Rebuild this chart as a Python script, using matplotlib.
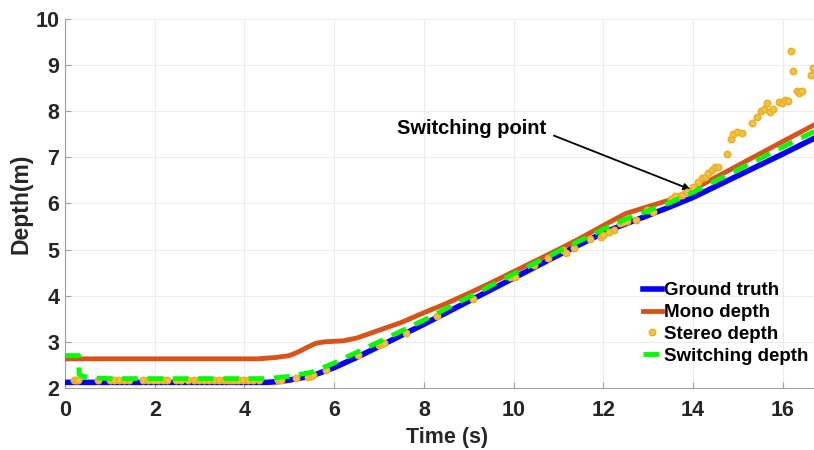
import matplotlib.pyplot as plt

plt.rcParams['font.family'] = ['Liberation Sans', 'DejaVu Sans']
plt.rcParams['font.weight'] = 'bold'

# Ground truth depth
gt_t = [0, 4.5, 4.8, 5.0, 5.5, 6.0, 6.5, 7.0, 8.0, 9.0, 10.0, 11.0, 12.0, 12.4,
        13.0, 13.5, 14.0, 15.0, 16.0, 16.7]
gt_d = [2.12, 2.12, 2.14, 2.17, 2.26, 2.44, 2.66, 2.9, 3.38, 3.88, 4.38, 4.88,
        5.36, 5.52, 5.74, 5.93, 6.13, 6.6, 7.07, 7.41]

# Mono depth
mono_t = [0, 4.3, 4.7, 5.0, 5.2, 5.4, 5.6, 5.8, 6.2, 6.5, 7.0, 7.5, 8.0, 8.5,
          9.0, 9.5, 10.0, 10.5, 11.0, 11.5, 12.0, 12.5, 13.0, 13.5, 14.0,
          15.0, 16.0, 16.7]
mono_d = [2.63, 2.63, 2.66, 2.7, 2.78, 2.88, 2.97, 3.0, 3.02, 3.08, 3.25, 3.42,
          3.63, 3.83, 4.05, 4.28, 4.52, 4.76, 5.0, 5.25, 5.52, 5.78, 5.93, 6.08,
          6.3, 6.82, 7.34, 7.7]

# Stereo depth samples
stereo_t = [0.2, 0.25, 0.29, 0.73, 1.0, 1.09, 1.2, 1.31, 1.42, 1.74, 1.85, 1.96,
            2.07, 2.18, 2.27, 2.47, 2.58, 2.74, 2.87, 2.98, 3.1, 3.2, 3.32, 3.43,
            3.54, 3.63, 3.7, 3.76, 3.85, 3.96, 4.08, 4.19, 4.32, 4.74, 4.81,
            5.14, 5.41, 5.48, 5.52, 5.81, 6.53, 6.99, 7.04, 7.1, 7.6, 8.3, 9.1,
            9.93, 10.04, 10.45, 10.76, 11.11, 11.16, 11.34, 11.71, 11.94, 12.0,
            12.12, 12.23, 12.38, 12.45, 12.54, 12.72, 12.98, 13.1, 13.5, 13.6,
            13.76, 13.87, 14.0, 14.12, 14.21, 14.28, 14.34, 14.43, 14.5, 14.57,
            14.77, 14.86, 14.9, 14.99, 15.1, 15.32, 15.43, 15.52, 15.59, 15.66,
            15.72, 15.79, 15.92, 15.99, 16.06, 16.12, 16.19, 16.24, 16.32,
            16.37, 16.43, 16.64, 16.68]
stereo_d = [2.17, 2.17, 2.17, 2.17, 2.17, 2.17, 2.17, 2.17, 2.17, 2.17, 2.17,
            2.17, 2.17, 2.17, 2.17, 2.17, 2.17, 2.17, 2.17, 2.17, 2.17, 2.17,
            2.17, 2.17, 2.17, 2.17, 2.17, 2.17, 2.17, 2.17, 2.17, 2.17, 2.17,
            2.17, 2.17, 2.22, 2.24, 2.25, 2.28, 2.39, 2.72, 2.93, 2.95, 2.98,
            3.2, 3.55, 3.93, 4.41, 4.41, 4.67, 4.82, 4.99, 4.93, 5.04, 5.23,
            5.28, 5.32, 5.38, 5.43, 5.58, 5.6, 5.62, 5.64, 5.86, 5.82, 6.1,
            6.17, 6.19, 6.25, 6.36, 6.47, 6.56, 6.58, 6.66, 6.73, 6.79, 6.79,
            7.08, 7.4, 7.51, 7.55, 7.53, 7.75, 7.88, 8.01, 8.05, 8.18, 7.99,
            8.05, 8.2, 8.18, 8.25, 8.23, 9.31, 8.88, 8.44, 8.4, 8.44, 8.79, 8.94]

# Switching depth
sw_t = [0, 0.3, 0.31, 0.4, 0.6, 1.0, 4.5, 5.0, 5.5, 6.0, 6.5, 7.0, 8.0, 9.0,
        10.0, 11.0, 12.0, 12.5, 13.0, 13.5, 14.0, 15.0, 16.0, 16.7]
sw_d = [2.7, 2.7, 2.3, 2.25, 2.22, 2.2, 2.2, 2.25, 2.34, 2.54, 2.77, 3.0, 3.47,
        3.97, 4.47, 4.96, 5.44, 5.66, 5.84, 6.02, 6.24, 6.73, 7.22, 7.56]

fig = plt.figure(figsize=(8.14, 4.5), dpi=100)
ax = fig.add_axes([0.08, 0.138, 0.92, 0.82])

ax.plot(gt_t, gt_d, color='#0000FF', lw=4, label='Ground truth', zorder=3)
ax.plot(mono_t, mono_d, color='#D95319', lw=3.5, label='Mono depth', zorder=3)
ax.plot(stereo_t, stereo_d, linestyle='none', marker='o', ms=4.5,
        color='#EDB120', mfc='#F2C24A', mew=1.2, label='Stereo depth', zorder=4)
ax.plot(sw_t, sw_d, color='#00FF00', lw=3.5, dashes=(3.2, 2.0),
        label='Switching depth', zorder=5)

# annotation: text and arrow drawn separately
ax.text(7.4, 7.5, 'Switching point', fontsize=14.5, fontweight='bold',
        va='baseline', ha='left')
ax.annotate('', xy=(13.95, 6.3), xytext=(10.9, 7.47),
            arrowprops=dict(arrowstyle='-|>', color='black', lw=1.3,
                            mutation_scale=10, shrinkA=0, shrinkB=0))

ax.set_xlim(0, 16.7)
ax.set_ylim(2, 10)
ax.set_xticks(range(0, 17, 2))
ax.set_yticks(range(2, 11))
ax.grid(True, color='#EBEBEB', lw=0.8)
ax.set_axisbelow(True)
for s in ['top', 'right']:
    ax.spines[s].set_visible(False)
for s in ['left', 'bottom']:
    ax.spines[s].set_color('#A0A0A0')
ax.tick_params(direction='in', colors='#A0A0A0', labelcolor='#262626',
               labelsize=15.5, length=4)
ax.tick_params(axis='x', pad=9)
ax.tick_params(axis='y', pad=4)
for lab in ax.get_xticklabels() + ax.get_yticklabels():
    lab.set_fontweight('bold')

ax.set_xlabel('Time (s)', fontsize=15.5, fontweight='bold', color='#262626')
ax.set_ylabel('Depth(m)', fontsize=16.5, fontweight='bold', color='#262626')
ax.xaxis.set_label_coords(0.51, -0.107)
ax.yaxis.set_label_coords(-0.043, 0.5)

leg = ax.legend(loc='lower right', frameon=False, fontsize=13.5, handlelength=1.0,
                handletextpad=0.15, labelspacing=0.25, borderaxespad=0.2,
                bbox_to_anchor=(1.008, 0.032))
for t in leg.get_texts():
    t.set_fontweight('bold')

fig.savefig('out.png', dpi=100)
